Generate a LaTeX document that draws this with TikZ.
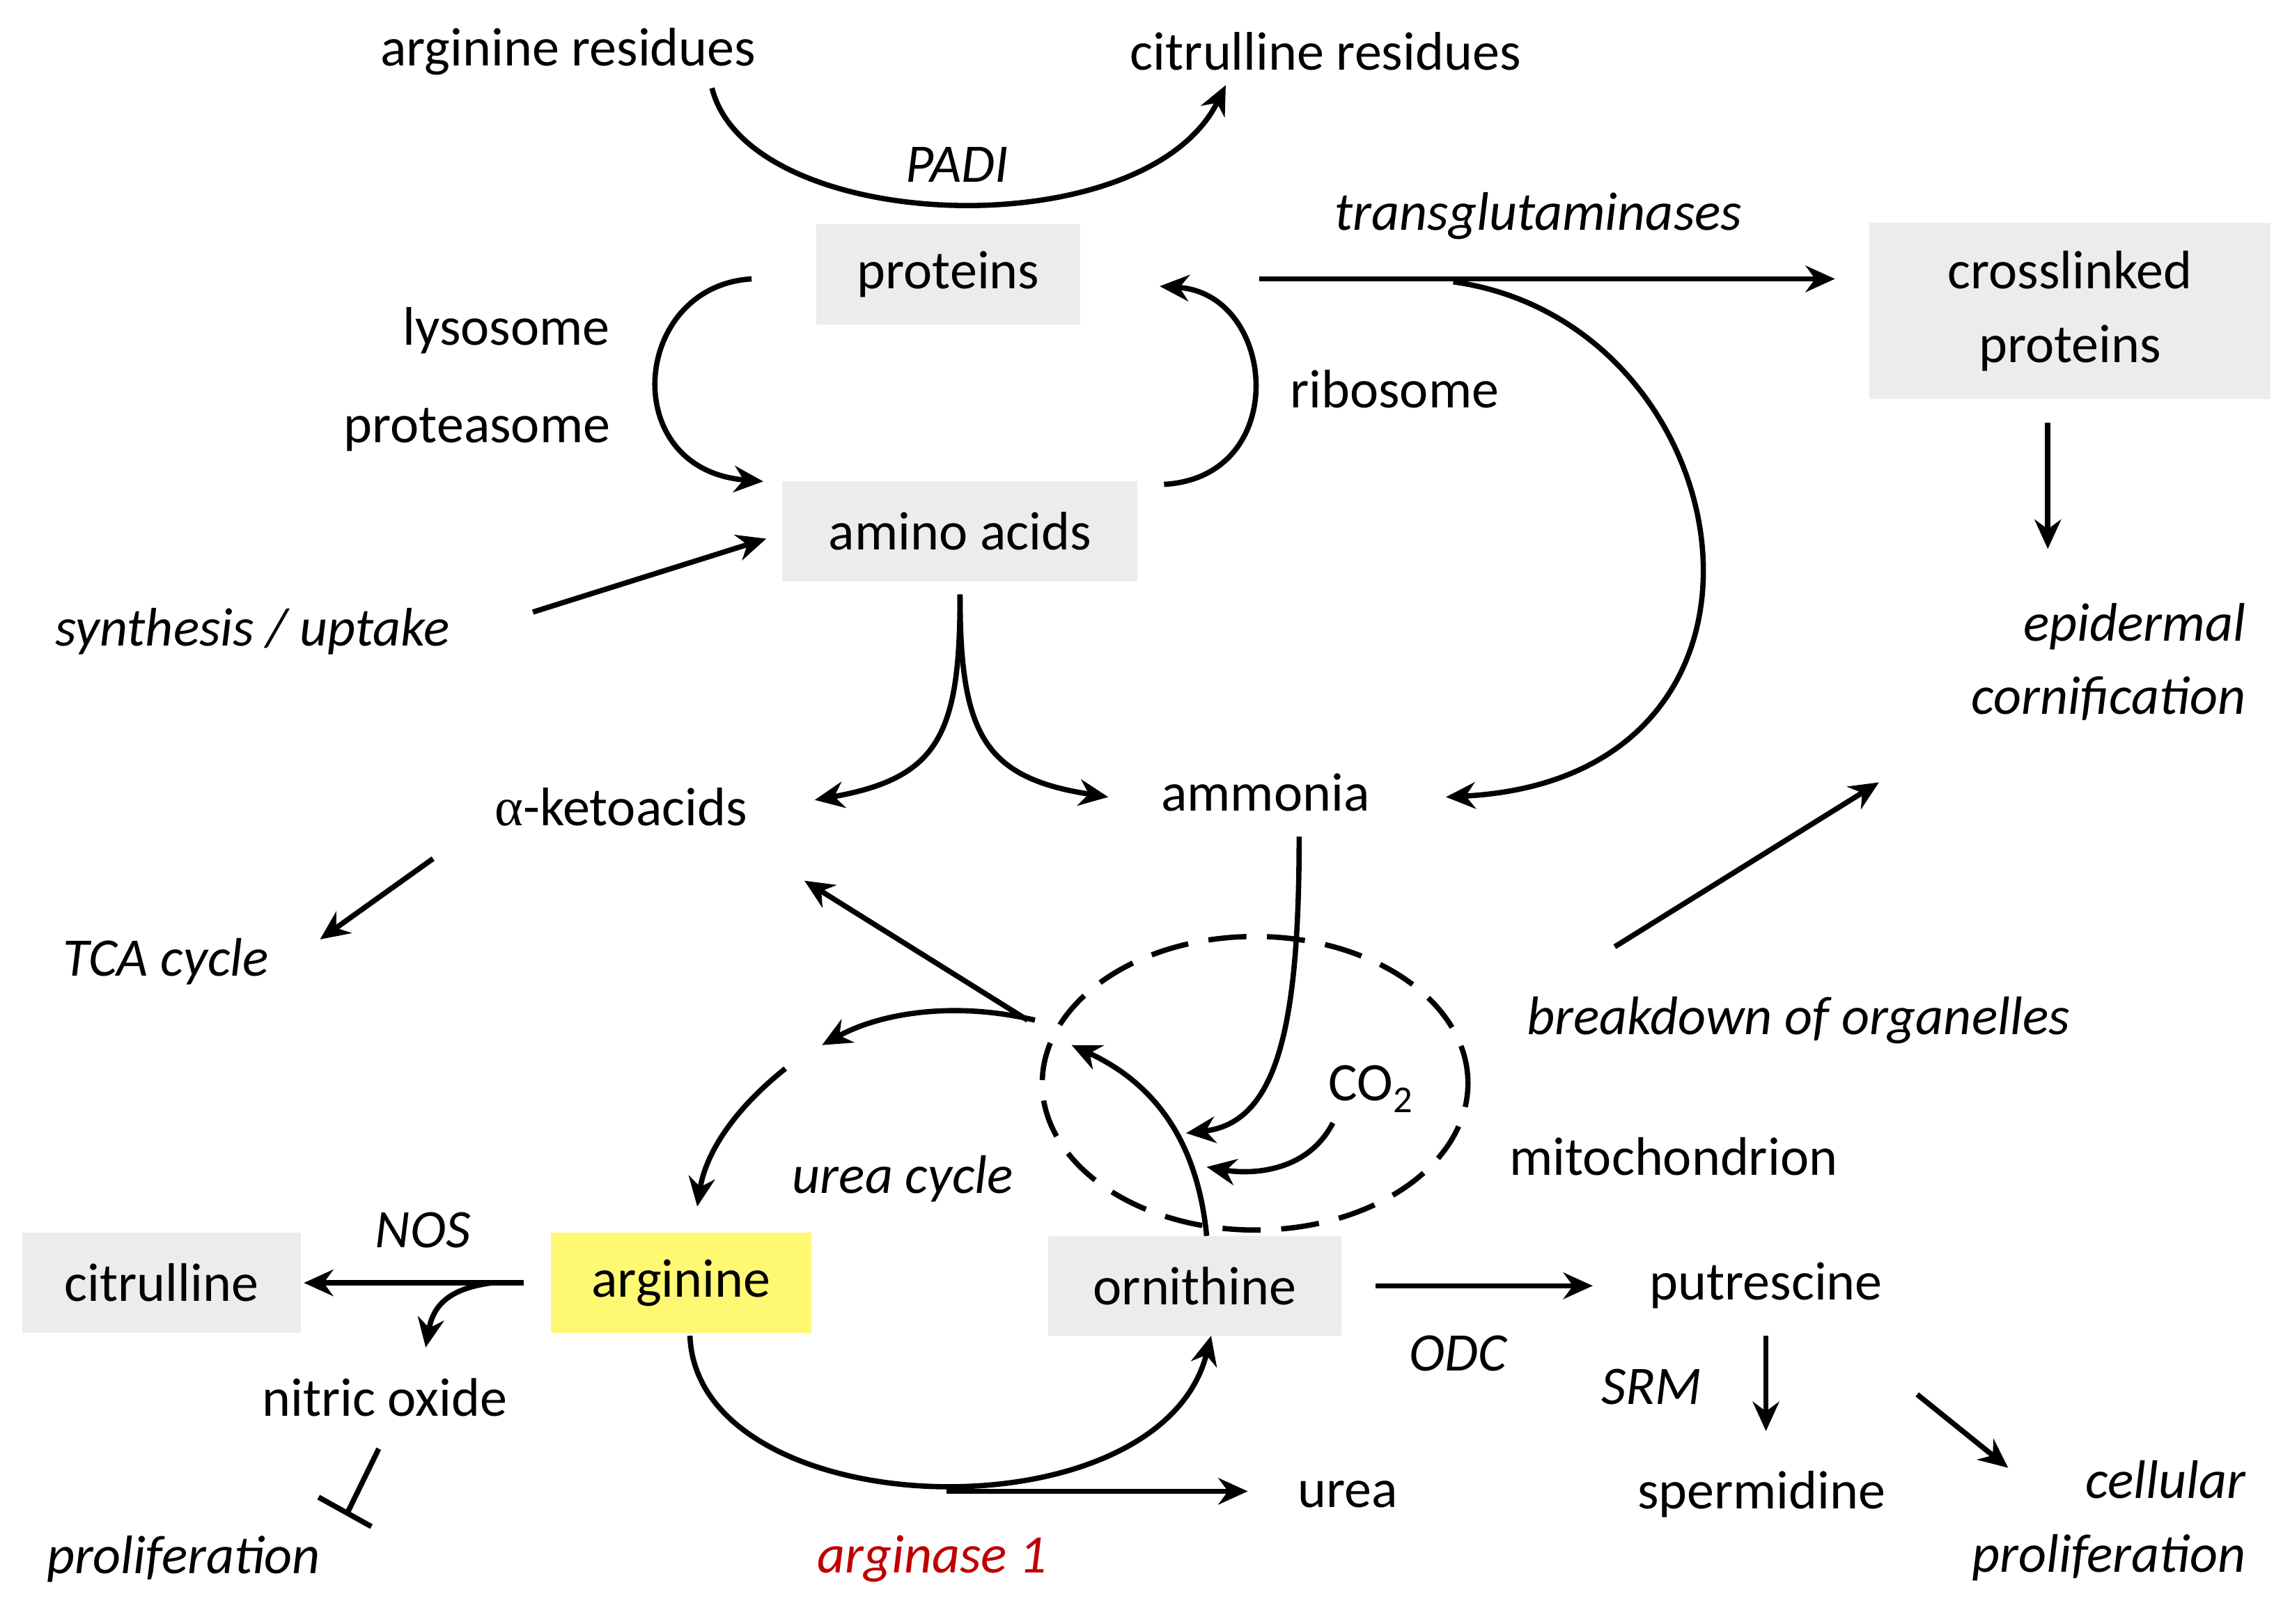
\documentclass[tikz,border=0pt]{standalone}
\usepackage{fontspec}
\setmainfont{Carlito}
\newfontfamily\grk{Liberation Serif}
\usetikzlibrary{arrows.meta,shapes.geometric}
\begin{document}
\begin{tikzpicture}[x=1pt,y=-1pt,
  every node/.style={font=\fontsize{37}{44}\selectfont, inner sep=0},
  box/.style={fill=gray!15, minimum height=68pt, inner xsep=16pt},
  it/.style={font=\fontsize{37}{44}\selectfont\itshape},
  arr/.style={line width=3.6pt, -{Stealth[length=20pt,width=18pt]}},
  ln/.style={line width=3.6pt}]
\useasboundingbox (0,0) rectangle (1560,1106);
% nodes
\node (argres) at (387,35) {arginine residues};
\node (citres) at (903,35) {citrulline residues};
\node[it] (padi) at (652,112) {PADI};
\node[box, minimum width=180pt] (prot) at (646,187) {proteins};
\node[it] (tg) at (1048,147) {transglutaminases};
\node[box, minimum width=273pt, minimum height=120pt, align=center] (cross) at (1410,212) {crosslinked\\[6pt]proteins};
\node[it, align=right, anchor=east] (epi) at (1530,451) {epidermal\\[6pt]cornification};
\node (lys) at (345,225) {lysosome};
\node (prs) at (325,293) {proteasome};
\node[box, minimum width=242pt] (aa) at (654,362) {amino acids};
\node (rib) at (950,265) {ribosome};
\node[it] (syn) at (172,430) {synthesis / uptake};
\node (keto) at (423,550) {{\grk α}-ketoacids};
\node (amm) at (862,540) {ammonia};
\node[it] (tca) at (113,655) {TCA cycle};
\node[it] (bdo) at (1225,695) {breakdown of organelles};
\node (mito) at (1140,788) {mitochondrion};
\node (co2) at (934,742) {CO\textsubscript{2}};
\node[it] (uc) at (615,803) {urea cycle};
\node[box, fill=yellow!55, minimum width=177pt] (arg) at (464,874) {arginine};
\node[box, minimum width=190pt] (cit) at (110,874) {citrulline};
\node[box, minimum width=200pt] (orn) at (814,876) {ornithine};
\node[it] (nos) at (288,838) {NOS};
\node (no) at (262,952) {nitric oxide};
\node[it] (prol) at (125,1062) {proliferation};
\node[it, text=red!75!black] (ars) at (635,1062) {arginase 1};
\node (urea) at (918,1018) {urea};
\node (put) at (1203,876) {putrescine};
\node[it] (odc) at (993,922) {ODC};
\node[it] (srm) at (1125,945) {SRM};
\node (spd) at (1200,1018) {spermidine};
\node[it, align=right, anchor=east] (cp) at (1530,1036) {cellular\\[6pt]proliferation};
% mitochondrion
\node[draw, ellipse, line width=3.6pt, dash pattern=on 26pt off 14pt, minimum width=290pt, minimum height=200pt] (mit) at (855,738) {};
% connectors
\draw[arr] (485,60) .. controls (510,160) and (780,170) .. (835,58);
\draw[arr] (858,190) -- (1250,190);
\draw[arr] (990,192) .. controls (1190,220) and (1240,530) .. (985,543);
\draw[arr] (1395,288) -- (1395,374);
\draw[arr] (512,190) .. controls (430,195) and (420,320) .. (520,328);
\draw[arr] (793,330) .. controls (880,325) and (870,200) .. (790,195);
\draw[arr] (363,417) -- (522,367);
\draw[arr] (654,405) .. controls (654,500) and (640,530) .. (555,545);
\draw[arr] (654,405) .. controls (654,500) and (670,530) .. (755,543);
\draw[arr] (295,585) -- (218,640);
\draw[arr] (700,695) -- (548,600);
\draw[arr] (1100,645) -- (1280,533);
\draw[arr] (885,570) .. controls (885,700) and (870,765) .. (808,772);
\draw[arr] (908,765) .. controls (890,800) and (850,800) .. (822,795);
\draw[arr] (822,842) .. controls (815,770) and (780,735) .. (730,712);
\draw[arr] (705,695) .. controls (650,682) and (600,690) .. (560,712);
\draw[arr] (535,728) .. controls (495,760) and (480,790) .. (475,822);
\draw[arr] (357,874) -- (207,874);
\draw[arr] (335,874) .. controls (305,878) and (295,890) .. (290,918);
\draw[ln] (258,987) -- (237,1030);
\draw[ln] (217,1020) -- (253,1040);
\draw[arr] (470,910) .. controls (475,1040) and (790,1050) .. (825,910);
\draw[arr] (645,1016) -- (850,1016);
\draw[arr] (937,876) -- (1085,876);
\draw[arr] (1203,910) -- (1203,975);
\draw[arr] (1306,950) -- (1368,1000);
\end{tikzpicture}
\end{document}
